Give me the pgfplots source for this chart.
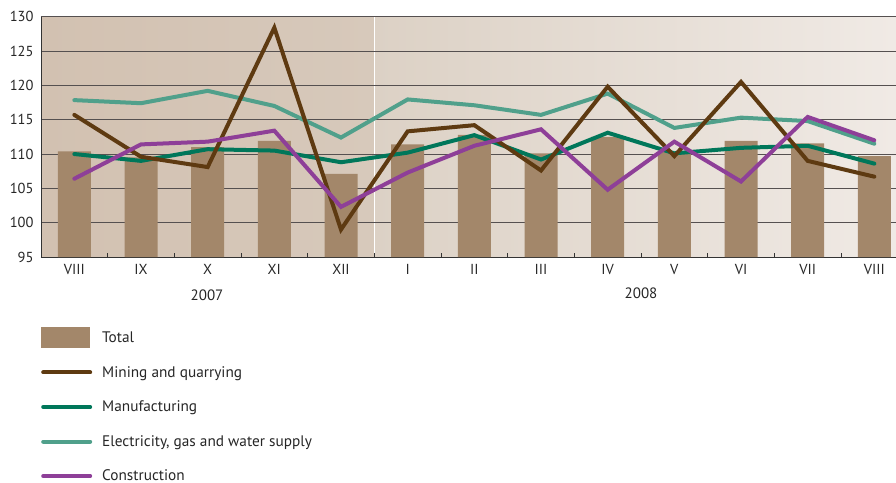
\documentclass[border=0pt]{standalone}
\usepackage{pgfplots}
\usepackage{pgfplotstable}
\pgfplotsset{compat=1.18}
\usepackage{fontspec}
\setmainfont{PT Sans}

\definecolor{totalc}{HTML}{A3876A}
\definecolor{mining}{HTML}{5E3A11}
\definecolor{manuf}{HTML}{00775A}
\definecolor{elec}{HTML}{50A08B}
\definecolor{constr}{HTML}{8E3F98}
\definecolor{bgA}{HTML}{D2C1B1}
\definecolor{bgB}{HTML}{D7C9BB}
\definecolor{bgC}{HTML}{DCD1C5}
\definecolor{bgD}{HTML}{F0EAE5}
\definecolor{gridc}{HTML}{555050}

% month index, total, mining, manufacturing, electricity, construction
\pgfplotstableread{
x  total  mining  manuf  elec   constr
0  110.4  115.7   110.0  117.85 106.4
1  109.5  109.6   109.0  117.4  111.4
2  111.0  108.1   110.7  119.2  111.8
3  111.9  128.4   110.5  117.0  113.4
4  107.1  99.0    108.8  112.4  102.3
5  111.4  113.3   110.2  117.95 107.3
6  112.8  114.2   112.75 117.1  111.2
7  110.1  107.6   109.2  115.7  113.6
8  112.5  119.8   113.1  118.8  104.8
9  110.3  109.7   110.1  113.8  111.8
10 111.9  120.5   110.9  115.3  106.0
11 111.55 109.0   111.2  114.8  115.4
12 109.7  106.7   108.6  111.5  112.0
}\ipdata

\begin{document}
\begin{tikzpicture}
% background panels: 2007 part and 2008 part (axis is 855pt x 240.3pt at origin)
\fill[left color=bgA, right color=bgB] (0pt,0pt) rectangle (333.5pt,240.3pt);
\fill[left color=bgC, right color=bgD] (333.5pt,0pt) rectangle (855pt,240.3pt);
\draw[white, line width=1.3pt] (333.5pt,0pt) -- (333.5pt,240.3pt);
\begin{axis}[
  at={(0pt,0pt)}, anchor=south west,
  scale only axis,
  width=855pt, height=240.3pt,
  xmin=-0.5, xmax=12.325,
  ymin=95, ymax=130,
  axis x line*=bottom,
  axis y line*=left,
  axis line style={draw=black!80, line width=0.9pt},
  xtick={0,...,12},
  xticklabels={VIII,IX,X,XI,XII,I,II,III,IV,V,VI,VII,VIII},
  minor xtick={0.5,1.5,...,11.5},
  ytick={95,100,...,130},
  ymajorgrids,
  grid style={gridc, line width=0.8pt},
  major tick length=0pt,
  minor tick length=4.5pt,
  tick align=inside,
  minor tick style={black!80, line width=0.9pt},
  font=\fontsize{14.5}{16}\selectfont,
  tick label style={font=\fontsize{14.5}{16}\selectfont, text=black!85},
  /pgf/number format/assume math mode=true,
  yticklabel style={xshift=-4pt},
  xticklabel style={yshift=-4pt},
  legend style={at={(axis description cs:0,-0.292)}, anchor=north west,
    draw=none, fill=none, inner sep=0pt, row sep=13.55pt,
    font=\fontsize{15.3}{17}\selectfont, text=black!85,
    nodes={inner sep=0pt}},
  legend cell align=left,
  legend image code/.code={%
    \path[draw=none, fill=none] (0pt,-10.5pt) rectangle (61pt,10.5pt);
    \draw[#1, line width=4pt, line cap=round] (2pt,0pt) -- (49pt,0pt);},
]
\addplot[ybar, bar width=33pt, fill=totalc, draw=none, forget plot] table[x=x, y=total] {\ipdata};
\addplot[elec, line width=4pt, line cap=round, line join=miter, forget plot] table[x=x, y=elec] {\ipdata};
\addplot[manuf, line width=4pt, line cap=round, line join=miter, forget plot] table[x=x, y=manuf] {\ipdata};
\addplot[mining, line width=4pt, line cap=round, line join=miter, forget plot] table[x=x, y=mining] {\ipdata};
\addplot[constr, line width=4pt, line cap=round, line join=miter, forget plot] table[x=x, y=constr] {\ipdata};

\addlegendimage{legend image code/.code={%
    \path[draw=none, fill=none] (0pt,-10.5pt) rectangle (61pt,10.5pt);
    \fill[totalc, draw=none] (0pt,-10.5pt) rectangle (49pt,10.5pt);}}
\addlegendentry{Total}
\addlegendimage{mining}
\addlegendentry{Mining and quarrying}
\addlegendimage{manuf}
\addlegendentry{Manufacturing}
\addlegendimage{elec}
\addlegendentry{Electricity, gas and water supply}
\addlegendimage{constr}
\addlegendentry{Construction}
\end{axis}
\node[font=\fontsize{15}{17}\selectfont, text=black!85] at (166pt,-38pt) {2007};
\node[font=\fontsize{15}{17}\selectfont, text=black!85] at (600pt,-36pt) {2008};
\pgfresetboundingbox
\path[use as bounding box] (-41pt,-225pt) rectangle (855pt,257pt);
\end{tikzpicture}
\end{document}
